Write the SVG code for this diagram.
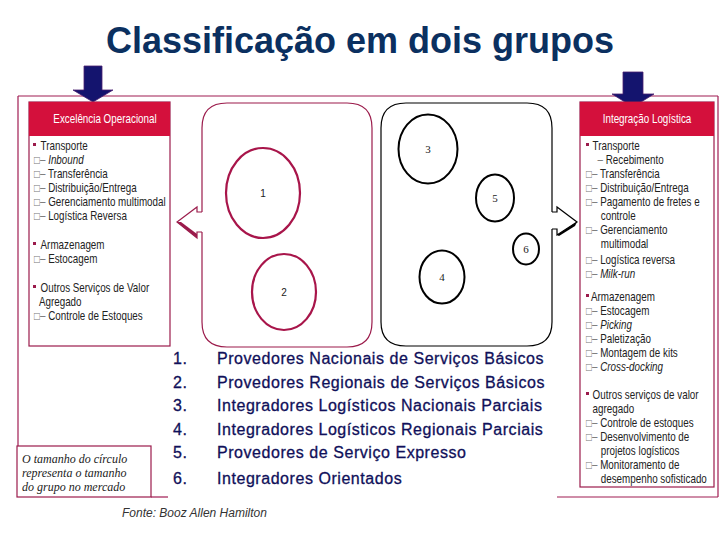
<svg xmlns="http://www.w3.org/2000/svg" width="720" height="540" viewBox="0 0 720 540">
<style>
.title{font-family:"Liberation Sans",Arial,sans-serif;font-weight:bold;font-size:36px;fill:#0b3060}
.frame{stroke:#a01c52;stroke-width:1.2;fill:none}
.box{fill:#fff;stroke:#9b1b4b;stroke-width:1.2}
.hdr{fill:#d4103c}
.hdrt{font-family:"Liberation Sans",Arial,sans-serif;font-size:12px;fill:#fff;text-anchor:middle}
.it{font-family:"Liberation Sans",Arial,sans-serif;font-size:12px;fill:#222}
.g{fill:#777}
.bul{fill:#9b1b4b}
.i{font-style:italic}
.grp1{fill:none;stroke:#9b1b4b;stroke-width:1.2}
.grp2{fill:none;stroke:#000;stroke-width:1.2}
.c1{fill:none;stroke:#a8154a;stroke-width:2.2}
.c2{fill:none;stroke:#000;stroke-width:2}
.ls{font-family:"Liberation Sans",Arial,sans-serif;font-size:10px;fill:#222;text-anchor:middle}
.lt{font-family:"Liberation Serif","Times New Roman",serif;font-size:11px;fill:#222;text-anchor:middle}
.num{font-family:"Liberation Sans",Arial,sans-serif;font-size:16px;letter-spacing:0.55px;fill:#10105a;stroke:#10105a;stroke-width:0.3}
.note{font-family:"Liberation Serif","Times New Roman",serif;font-style:italic;font-size:12px;fill:#222}
.src{font-family:"Liberation Sans",Arial,sans-serif;font-style:italic;font-size:12px;fill:#333}
.darr{fill:#14146e;stroke:#4a2070;stroke-width:0.8}
</style>

<text class="title" x="360" y="53" text-anchor="middle">Classificação em dois grupos</text>

<g id="frame">
  <line class="frame" x1="18" y1="96" x2="718" y2="96"/>
  <line class="frame" x1="18" y1="96" x2="18" y2="446"/>
  <line class="frame" x1="718" y1="96" x2="718" y2="497"/>
  <line class="frame" x1="151" y1="497" x2="168" y2="497"/>
  <line class="frame" x1="557" y1="497" x2="718" y2="497"/>
</g>

<g id="arrow-left-down">
  <path class="darr" d="M84,66 H102 V90 H113 L93,102 L73,90 H84 Z"/>
</g>
<g id="arrow-right-down">
  <path class="darr" d="M623,72 H643 V94 H654 L633,107 L612,94 H623 Z"/>
</g>

<g id="box-excelencia">
  <rect class="box" x="29" y="102" width="141" height="244"/>
  <rect class="hdr" x="29" y="102" width="141" height="34"/>
  <text class="hdrt" x="105" y="123" transform="translate(18.9,0) scale(0.82,1)">Excelência Operacional</text>
  <rect class="bul" x="33" y="143" width="3" height="3"/>
  <rect class="bul" x="33" y="242" width="3" height="3"/>
  <rect class="bul" x="33" y="285" width="3" height="3"/>
  <g class="it" transform="translate(6.12,0) scale(0.82,1)">
    <text x="42" y="150">Transporte</text>
    <text x="34" y="164"><tspan class="g">□–</tspan> <tspan class="i">Inbound</tspan></text>
    <text x="34" y="178"><tspan class="g">□–</tspan> Transferência</text>
    <text x="34" y="192"><tspan class="g">□–</tspan> Distribuição/Entrega</text>
    <text x="34" y="206"><tspan class="g">□–</tspan> Gerenciamento multimodal</text>
    <text x="34" y="220"><tspan class="g">□–</tspan> Logística Reversa</text>
    <text x="42" y="249">Armazenagem</text>
    <text x="34" y="263"><tspan class="g">□–</tspan> Estocagem</text>
    <text x="42" y="292">Outros Serviços de Valor</text>
    <text x="40" y="306">Agregado</text>
    <text x="34" y="320"><tspan class="g">□–</tspan> Controle de Estoques</text>
  </g>
</g>

<g id="box-integracao">
  <rect class="box" x="580" y="102" width="134" height="385"/>
  <rect class="hdr" x="580" y="102" width="134" height="34"/>
  <text class="hdrt" x="647" y="123" transform="translate(116.46,0) scale(0.82,1)">Integração Logística</text>
  <rect class="bul" x="586" y="143" width="3" height="3"/>
  <rect class="bul" x="586" y="294" width="3" height="3"/>
  <rect class="bul" x="586" y="392" width="3" height="3"/>
  <g class="it" transform="translate(105.48,0) scale(0.82,1)">
    <text x="594" y="150">Transporte</text>
    <text x="600" y="164"><tspan class="g">–</tspan> Recebimento</text>
    <text x="586" y="178"><tspan class="g">□–</tspan> Transferência</text>
    <text x="586" y="192"><tspan class="g">□–</tspan> Distribuição/Entrega</text>
    <text x="586" y="206"><tspan class="g">□–</tspan> Pagamento de fretes e</text>
    <text x="604" y="220">controle</text>
    <text x="586" y="234"><tspan class="g">□–</tspan> Gerenciamento</text>
    <text x="604" y="248">multimodal</text>
    <text x="586" y="264"><tspan class="g">□–</tspan> Logística reversa</text>
    <text x="586" y="278"><tspan class="g">□–</tspan> <tspan class="i">Milk-run</tspan></text>
    <text x="592" y="301">Armazenagem</text>
    <text x="586" y="315"><tspan class="g">□–</tspan> Estocagem</text>
    <text x="586" y="329"><tspan class="g">□–</tspan> <tspan class="i">Picking</tspan></text>
    <text x="586" y="343"><tspan class="g">□–</tspan> Paletização</text>
    <text x="586" y="357"><tspan class="g">□–</tspan> Montagem de kits</text>
    <text x="586" y="371"><tspan class="g">□–</tspan> <tspan class="i">Cross-docking</tspan></text>
    <text x="594" y="399">Outros serviços de valor</text>
    <text x="594" y="413">agregado</text>
    <text x="586" y="427"><tspan class="g">□–</tspan> Controle de estoques</text>
    <text x="586" y="441"><tspan class="g">□–</tspan> Desenvolvimento de</text>
    <text x="604" y="455">projetos logísticos</text>
    <text x="586" y="469"><tspan class="g">□–</tspan> Monitoramento de</text>
    <text x="604" y="483">desempenho sofisticado</text>
  </g>
</g>

<g id="group-operacional">
  <path class="grp1" d="M202,212 V128 Q202,103 227,103 H347 Q372,103 372,128 V322 Q372,347 347,347 H227 Q202,347 202,322 V232"/>
  <path class="grp1" d="M202,212 H197 V207 L177,222 L197,238 V232 H202" stroke-width="1.5"/>
  <path d="M177,222 L197,238 V234 L181,222 Z" fill="#9b1b4b"/>
  <ellipse class="c1" cx="263" cy="193" rx="37" ry="45"/>
  <text class="ls" x="263" y="197">1</text>
  <ellipse class="c1" cx="284" cy="292" rx="32" ry="38"/>
  <text class="ls" x="284" y="296" fill="#555">2</text>
</g>

<g id="group-integracao">
  <path class="grp2" d="M552,212 V128 Q552,103 527,103 H406 Q381,103 381,128 V322 Q381,346 406,346 H527 Q552,346 552,322 V229"/>
  <path class="grp2" d="M552,212 H557 V207 L577,222 L557,235 V229 H552" stroke-width="1.5"/>
  <path d="M557,235 L577,222 L575,226 L559,236 Z" fill="#000"/>
  <ellipse class="c2" cx="428" cy="149" rx="29.5" ry="34.5"/>
  <text class="lt" x="428" y="153">3</text>
  <ellipse class="c2" cx="495" cy="198" rx="19" ry="23.5"/>
  <text class="lt" x="495" y="202">5</text>
  <ellipse class="c2" cx="526" cy="249" rx="13" ry="15.5"/>
  <text class="lt" x="526" y="253">6</text>
  <ellipse class="c2" cx="442" cy="277" rx="22.5" ry="26.5"/>
  <text class="lt" x="442" y="281">4</text>
</g>

<g id="legend" class="num">
  <text x="173" y="364">1.</text><text x="217" y="364">Provedores Nacionais de Serviços Básicos</text>
  <text x="173" y="388">2.</text><text x="217" y="388">Provedores Regionais de Serviços Básicos</text>
  <text x="173" y="411">3.</text><text x="217" y="411">Integradores Logísticos Nacionais Parciais</text>
  <text x="173" y="435">4.</text><text x="217" y="435">Integradores Logísticos Regionais Parciais</text>
  <text x="173" y="458">5.</text><text x="217" y="458">Provedores de Serviço Expresso</text>
  <text x="173" y="484">6.</text><text x="217" y="484">Integradores Orientados</text>
</g>

<g id="note">
  <rect class="box" x="17" y="446" width="134" height="51"/>
  <text class="note" x="22" y="463">O tamanho do círculo</text>
  <text class="note" x="22" y="477">representa o tamanho</text>
  <text class="note" x="22" y="491">do grupo no mercado</text>
</g>

<text class="src" x="122" y="517">Fonte: Booz Allen Hamilton</text>
</svg>
